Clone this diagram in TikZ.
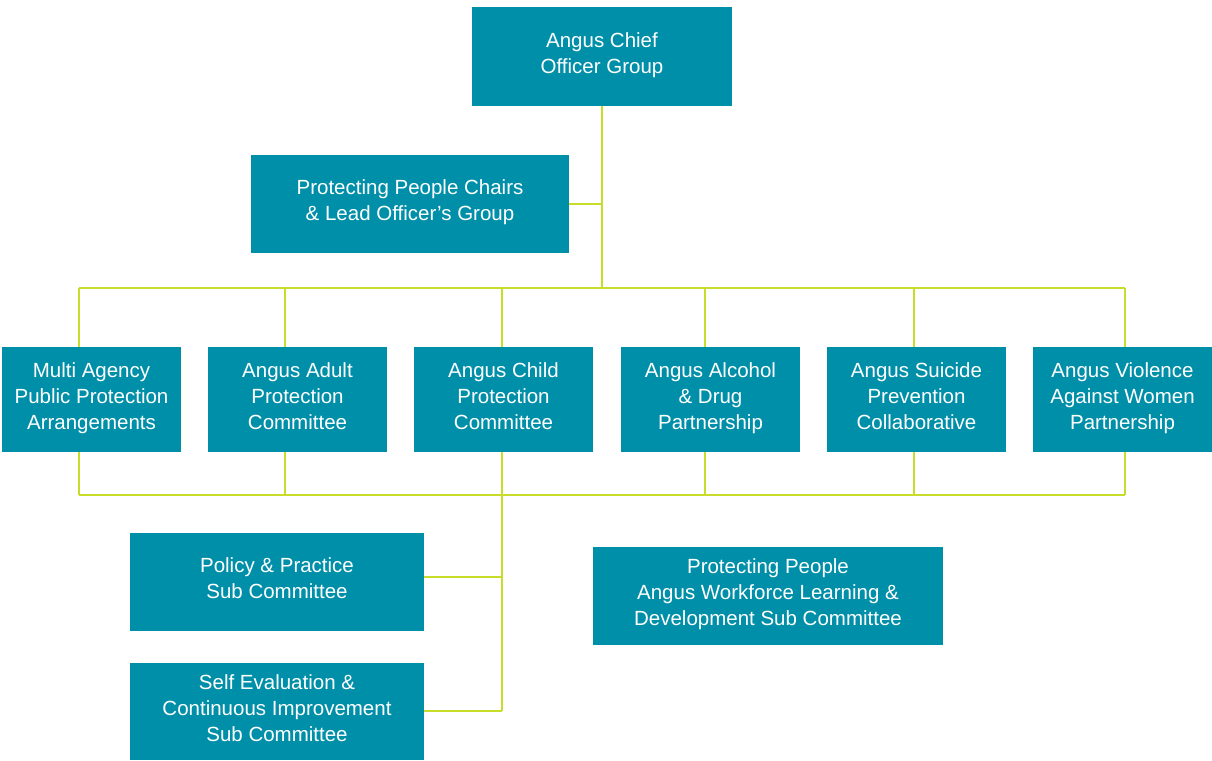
\documentclass[tikz,border=0pt]{standalone}
\usepackage{fontspec}
\setmainfont{Liberation Sans}
\definecolor{teal}{HTML}{008FA9}
\definecolor{lime}{HTML}{C8DC2A}
\begin{document}
\begin{tikzpicture}[x=1pt,y=-1pt,
  box/.style={fill=teal,text=white,inner sep=0pt,align=center,
    font=\fontsize{20.5}{26}\selectfont,
    execute at begin node={\strut}, execute at end node={\strut}},
  link/.style={draw=lime,line width=2.8pt}]
\useasboundingbox (0,0) rectangle (1212,760);
\newcommand{\bx}[6]{\node[box,minimum width=#4-#2,minimum height=#5-#3] (#1) at ({(#2+#4)/2},{(#3+#5)/2}) {#6};}
\bx{chief}{472}{7}{732}{106}{Angus Chief\\Officer Group}
\bx{chairs}{251}{155}{569}{253}{Protecting People Chairs\\\& Lead Officer’s Group}
\bx{mappa}{2}{347}{181}{452}{Multi Agency\\Public Protection\\Arrangements}
\bx{adult}{208}{347}{387}{452}{Angus Adult\\Protection\\Committee}
\bx{child}{414}{347}{593}{452}{Angus Child\\Protection\\Committee}
\bx{alcohol}{621}{347}{800}{452}{Angus Alcohol\\\& Drug\\Partnership}
\bx{suicide}{827}{347}{1006}{452}{Angus Suicide\\Prevention\\Collaborative}
\bx{violence}{1033}{347}{1212}{452}{Angus Violence\\Against Women\\Partnership}
\bx{policy}{130}{533}{424}{631}{Policy \& Practice\\Sub Committee}
\bx{selfeval}{130}{663}{424}{760}{Self Evaluation \&\\Continuous Improvement\\Sub Committee}
\bx{workforce}{593}{547}{943}{645}{Protecting People\\Angus Workforce Learning \&\\Development Sub Committee}
\coordinate (tbus) at (602,288);
\coordinate (bbus) at (502,495);
\coordinate (pj) at (502,577);
\coordinate (sj) at (502,711);
% top trunk
\draw[link] (chief.south) -- (tbus);
\draw[link] (chairs.east) -- (chief.south |- chairs.east);
\draw[link] (79,288) -- (1125,288);
\draw[link] (79,495) -- (1125,495);
\foreach \n/\x in {mappa/79,adult/285,child/502,alcohol/705,suicide/914,violence/1125}{
  \draw[link] (\x,288) -- (\n.north -| {\x,0});
  \draw[link] (\n.south -| {\x,0}) -- (\x,495);
}
\draw[link] (bbus) -- (sj);
\draw[link] (policy.east |- pj) -- (pj);
\draw[link] (selfeval.east |- sj) -- (sj);
\end{tikzpicture}
\end{document}
